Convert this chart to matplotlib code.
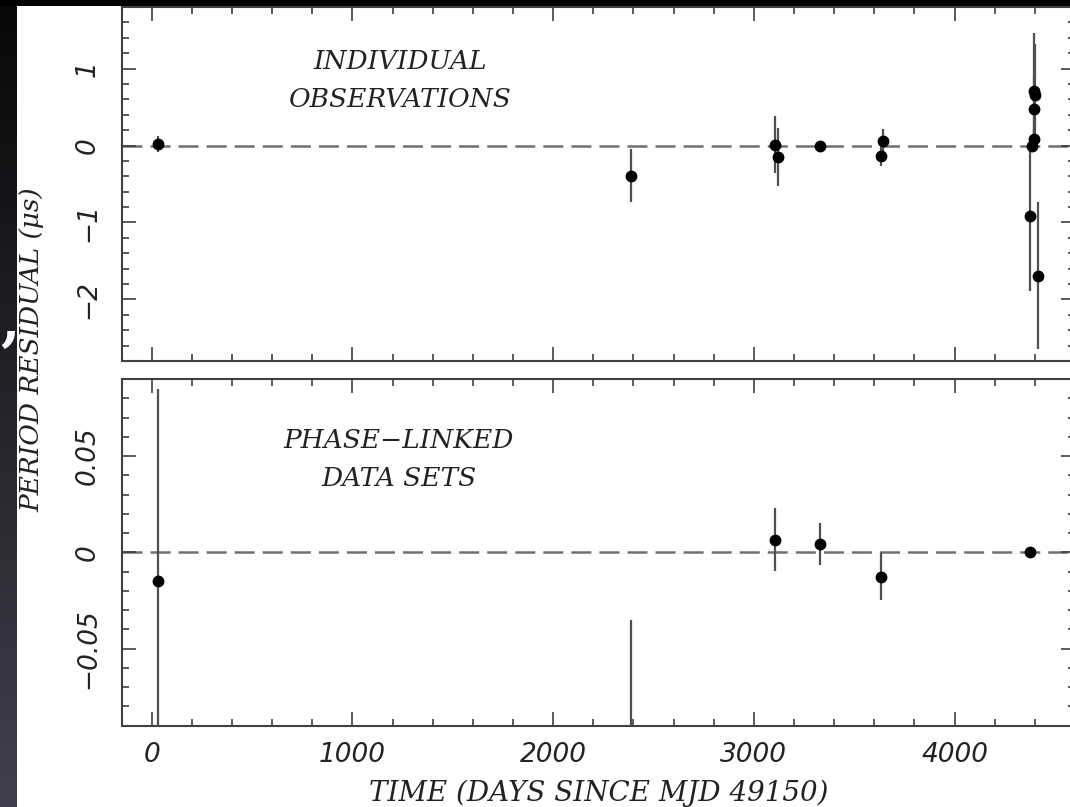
import numpy as np
import matplotlib
matplotlib.use("Agg")
import matplotlib.pyplot as plt
from matplotlib.patches import Rectangle
from matplotlib.ticker import MultipleLocator

plt.rcParams['lines.scale_dashes'] = False

# Individual observations (days since MJD 49150, residual in microseconds)
obs_days = [33, 2389, 3105, 3118, 3328, 3642, 3634, 4395, 4403, 4395, 4395, 4387, 4376, 4418]
obs_resid = [0.02, -0.39, 0.01, -0.15, 0.0, 0.06, -0.14, 0.71, 0.66, 0.47, 0.09, -0.01, -0.92, -1.69]
obs_err = [0.10, 0.35, 0.37, 0.38, 0.04, 0.16, 0.13, 0.75, 0.66, 0.45, 0.12, 0.08, 0.97, 0.96]

# Phase-linked data sets
link_days = [33, 2389, 3105, 3328, 3634, 4376]
link_resid = [-0.015, -0.15, 0.0066, 0.0044, -0.0127, 0.0]
link_err = [0.10, 0.115, 0.0163, 0.011, 0.0122, 0.003]

top_ticks = [-2, -1, 0, 1]
top_labels = ['\u22122', '\u22121', '0', '1']
bot_ticks = [-0.05, 0, 0.05]
bot_labels = ['\u22120.05', '0', '0.05']
x_ticks = [0, 1000, 2000, 3000, 4000]
x_labels = ['0', '1000', '2000', '3000', '4000']

W, H = 1070, 807
fig = plt.figure(figsize=(W / 100, H / 100), dpi=100)
fig.patch.set_facecolor('white')

serif = dict(family='DejaVu Serif', style='italic', color='#222222')
digits = dict(family='DejaVu Sans', style='oblique', color='#222222')
spine_col = '#404040'


def px_axes(x0, y0, x1, y1):
    return fig.add_axes([x0 / W, 1 - y1 / H, (x1 - x0) / W, (y1 - y0) / H])


ax1 = px_axes(121.7, 7, 1075, 361)
ax2 = px_axes(121.7, 379, 1075, 725.7)

for ax in (ax1, ax2):
    ax.set_xlim(-150, 4600)
    ax.xaxis.set_major_locator(MultipleLocator(1000))
    ax.xaxis.set_minor_locator(MultipleLocator(200))
    ax.tick_params(which='both', direction='in', top=True, right=True,
                   color=spine_col, width=1.2)
    ax.tick_params(which='major', length=10)
    ax.tick_params(which='minor', length=5)
    for sp in ax.spines.values():
        sp.set_color(spine_col)
        sp.set_linewidth(1.5)
    ax.axhline(0, color='#707070', lw=1.8, dashes=(14.4, 5.8), zorder=1)

ax1.set_ylim(-2.8, 1.8)
ax1.yaxis.set_minor_locator(MultipleLocator(0.2))
ax1.set_yticks(top_ticks)
ax1.set_yticklabels(top_labels)
ax1.set_xticklabels([])

ax2.set_ylim(-0.09, 0.09)
ax2.yaxis.set_minor_locator(MultipleLocator(0.01))
ax2.set_yticks(bot_ticks)
ax2.set_yticklabels(bot_labels)
ax2.set_xticks(x_ticks)
ax2.set_xticklabels(x_labels)

for ax in (ax1, ax2):
    ax.tick_params(axis='y', which='major', pad=15, labelsize=19)
    for lab in ax.get_yticklabels():
        lab.set_rotation(90)
        lab.set_va('center')
        lab.set_fontfamily(digits['family'])
        lab.set_fontstyle('oblique')
        lab.set_color(digits['color'])
ax2.tick_params(axis='x', which='major', pad=12, labelsize=19)
for lab in ax2.get_xticklabels():
    lab.set_fontfamily(digits['family'])
    lab.set_fontstyle('oblique')
    lab.set_color(digits['color'])

eb = dict(fmt='o', color='black', ms=7.5, ecolor='#505050', elinewidth=1.6,
          capsize=0, zorder=3)
ax1.errorbar(obs_days, obs_resid, yerr=obs_err, **eb)
ax2.errorbar(link_days, link_resid, yerr=link_err, **eb)

# Panel captions
ax1.text((400 - 121.7) / (1075 - 121.7), 1 - (62 - 7) / 354, 'INDIVIDUAL',
         transform=ax1.transAxes, ha='center', va='center', fontsize=19, **serif)
ax1.text((400 - 121.7) / (1075 - 121.7), 1 - (100 - 7) / 354, 'OBSERVATIONS',
         transform=ax1.transAxes, ha='center', va='center', fontsize=19, **serif)
ax2.text((399 - 121.7) / (1075 - 121.7), 1 - (441 - 379) / 346.7, 'PHASE\u2212LINKED',
         transform=ax2.transAxes, ha='center', va='center', fontsize=19, **serif)
ax2.text((399 - 121.7) / (1075 - 121.7), 1 - (479 - 379) / 346.7, 'DATA SETS',
         transform=ax2.transAxes, ha='center', va='center', fontsize=19, **serif)

# Axis titles
fig.text(599 / W, 1 - 793 / H, 'TIME (DAYS SINCE MJD 49150)', ha='center',
         va='center', fontsize=20, **serif)
fig.text(32 / W, 1 - 350 / H, 'PERIOD RESIDUAL (\u03bcs)', rotation=90,
         ha='center', va='center', fontsize=19, **serif)

# Dark slide border on the left and along the top
band = fig.add_axes([0, 0, 17 / W, 1], zorder=5)
grad = np.linspace(0, 1, 256)[:, None]
top_c = np.array([0.03, 0.03, 0.03])
bot_c = np.array([0.25, 0.25, 0.31])
img = top_c[None, None, :] * (1 - grad[..., None]) + bot_c[None, None, :] * grad[..., None]
band.imshow(img, aspect='auto', extent=[0, 1, 0, 1], origin='upper')
band.set_axis_off()
fig.patches.append(Rectangle((0, 1 - 6 / H), 1, 6 / H, transform=fig.transFigure,
                             facecolor='black', edgecolor='none', zorder=20))
fig.text(0.5 / W, 1 - 340 / H, ',', ha='left', va='baseline', fontsize=40,
         family='DejaVu Serif', weight='bold', color='white', zorder=30)

fig.savefig('out.png', dpi=100)
